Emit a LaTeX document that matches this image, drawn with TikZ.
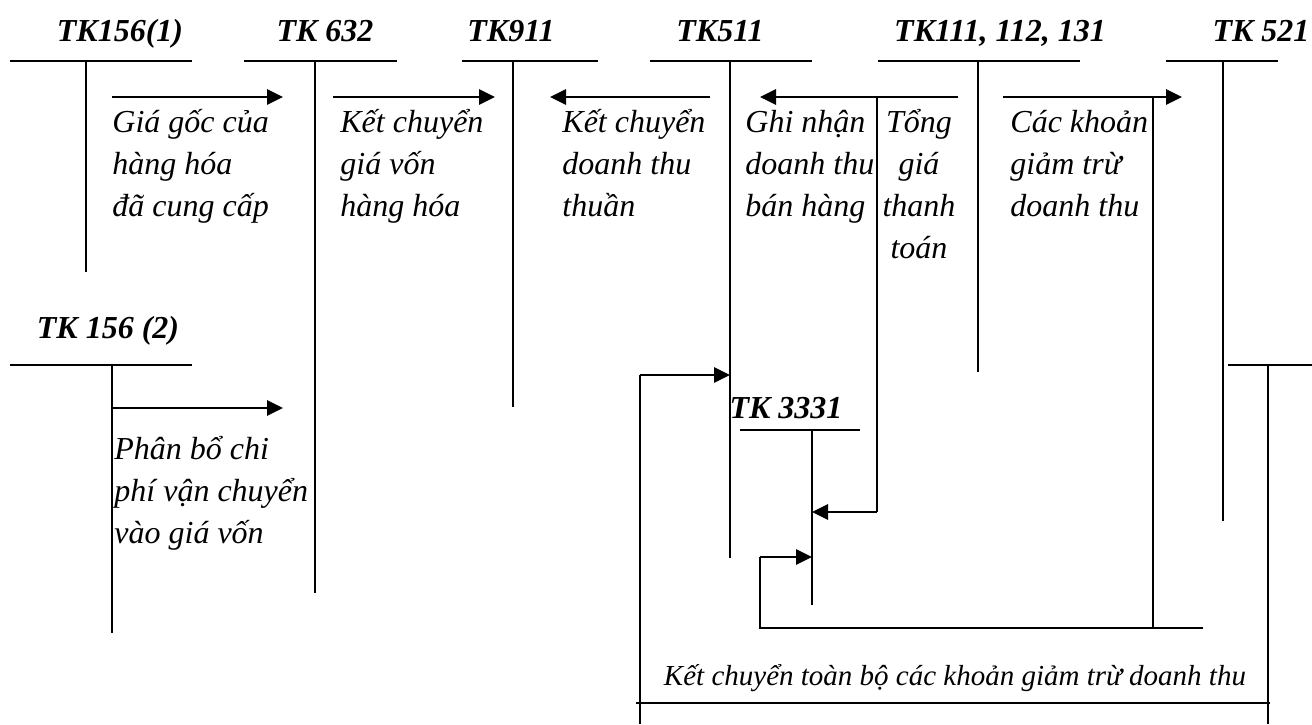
\documentclass[tikz,border=0pt]{standalone}
\usepackage{fontspec}
\setmainfont{Liberation Serif}
\usepackage{tikz}
\usetikzlibrary{arrows.meta}

\begin{document}
\begin{tikzpicture}[x=0.5pt,y=-0.5pt,
    title/.style={font=\bfseries\itshape\fontsize{16}{20}\selectfont,anchor=base,inner sep=0},
    note/.style={font=\itshape\fontsize{16}{21}\selectfont,align=left,anchor=base west,inner sep=0},
    tline/.style={line width=1pt},
    arrow/.style={-{Triangle[length=8pt,width=7.5pt]},line width=1.4pt}
]
\useasboundingbox (0,0) rectangle (1312,724);

% T-accounts: name/left/right/stem/top/bottom
\foreach \acc/\l/\r/\s/\t/\b in {k1561/10/192/86/61/272, k632/244/397/315/61/593,
    k911/462/598/513/61/407, k511/650/812/730/61/558, k111/878/1080/978/61/372,
    k521/1166/1278/1223/61/521, k1562/10/192/112/365/633, k3331/740/860/812/430/605,
    k521b/1228/1312/1268/365/724}{
  \coordinate (\acc-l) at (\l,\t);
  \coordinate (\acc-r) at (\r,\t);
  \coordinate (\acc-t) at (\s,\t);
  \coordinate (\acc-b) at (\s,\b);
  \draw[tline] (\acc-l) -- (\acc-r);
  \draw[tline] (\acc-t) -- (\acc-b);
}

% account titles
\node[title] (t1561) at (120,41) {TK156(1)};
\node[title] (t632) at (325,41) {TK 632};
\node[title] (t911) at (511,41) {TK911};
\node[title] (t511) at (720,41) {TK511};
\node[title] (t111) at (1000,41) {TK111, 112, 131};
\node[title] (t521) at (1261,41) {TK 521};
\node[title] (t1562) at (108,338) {TK 156 (2)};
\node[title] (t3331) at (786,418) {TK 3331};

% end points of the entries
\coordinate (e1s) at (112,97);  \coordinate (e1e) at (283,97);
\coordinate (e2s) at (333,97);  \coordinate (e2e) at (495,97);
\coordinate (e3s) at (710,97);  \coordinate (e3e) at (550,97);
\coordinate (e4s) at (958,97);  \coordinate (e4e) at (760,97);
\coordinate (e4v) at (877,97);  \coordinate (e4d) at (877,512);
\coordinate (e4t) at (812,512);
\coordinate (e5s) at (1003,97); \coordinate (e5e) at (1182,97);
\coordinate (e5v) at (1153,97); \coordinate (e5d) at (1153,628);
\coordinate (e6r) at (1203,628); \coordinate (e6l) at (760,628);
\coordinate (e6u) at (760,557); \coordinate (e6t) at (812,557);
\coordinate (e7s) at (112,408); \coordinate (e7e) at (283,408);
\coordinate (e8b) at (640,724); \coordinate (e8u) at (640,375);
\coordinate (e8t) at (730,375);
\coordinate (e9l) at (636,703); \coordinate (e9r) at (1270,703);

% entries
\draw[arrow] (e1s) -- (e1e);
\draw[arrow] (e2s) -- (e2e);
\draw[arrow] (e3s) -- (e3e);
\draw[arrow] (e4s) -- (e4e);
\draw[tline] (e4v) -- (e4d);
\draw[arrow] (e4d) -- (e4t);
\draw[arrow] (e5s) -- (e5e);
\draw[tline] (e5v) -- (e5d);
\draw[tline] (e6r) -- (e6l) -- (e6u);
\draw[arrow] (e6u) -- (e6t);
\draw[arrow] (e7s) -- (e7e);
\draw[tline] (e8b) -- (e8u);
\draw[arrow] (e8u) -- (e8t);
\draw[tline] (e9l) -- (e9r);

% descriptions (base = baseline of the last line)
\node[note] (n1) at (112,216) {Giá gốc của\\hàng hóa\\đã cung cấp};
\node[note] (n2) at (340,216) {Kết chuyển\\giá vốn\\hàng hóa};
\node[note] (n3) at (562,216) {Kết chuyển\\doanh thu\\thuần};
\node[note] (n4) at (745,216) {Ghi nhận\\doanh thu\\bán hàng};
\node[note,align=center,anchor=base] (n5) at (919,258) {Tổng\\giá\\thanh\\toán};
\node[note] (n6) at (1010,216) {Các khoản\\giảm trừ\\doanh thu};
\node[note] (n7) at (114,543) {Phân bổ chi\\phí vận chuyển\\vào giá vốn};
\node[note,font=\itshape\fontsize{14.5}{18}\selectfont,anchor=base] (n8) at (955,685)
    {Kết chuyển toàn bộ các khoản giảm trừ doanh thu};
\end{tikzpicture}
\end{document}
